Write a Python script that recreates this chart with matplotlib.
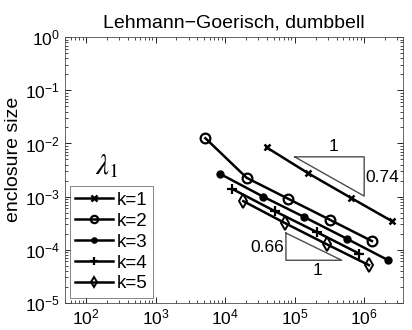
import matplotlib
matplotlib.use("Agg")
import matplotlib.pyplot as plt

plt.rcParams['font.family'] = ['Liberation Sans', 'DejaVu Sans']
plt.rcParams['mathtext.fontset'] = 'stix'

k1_x = [3.97e4, 1.57e5, 6.4e5, 2.54e6]
k1_y = [8.4e-3, 2.74e-3, 9.5e-4, 3.4e-4]
k2_x = [5.2e3, 2.05e4, 8.1e4, 3.2e5, 1.29e6]
k2_y = [1.26e-2, 2.25e-3, 9.06e-4, 3.66e-4, 1.45e-4]
k3_x = [8.5e3, 3.5e4, 1.38e5, 5.6e5, 2.22e6]
k3_y = [2.67e-3, 1.0e-3, 4.1e-4, 1.61e-4, 6.3e-5]
k4_x = [1.27e4, 5.2e4, 2.08e5, 8.5e5]
k4_y = [1.39e-3, 5.3e-4, 2.14e-4, 8.4e-5]
k5_x = [1.83e4, 7.3e4, 2.9e5, 1.17e6]
k5_y = [8.2e-4, 3.15e-4, 1.26e-4, 5.1e-5]
labels = ['k=1', 'k=2', 'k=3', 'k=4', 'k=5']

fig = plt.figure(figsize=(4.12, 3.30), dpi=100)
ax = fig.add_axes([65/412, 1-302.7/330, (403.3-65)/412, (302.7-37.3)/330])

ax.plot(k1_x, k1_y, '-x', color='k', lw=1.8, ms=5, mew=1.8, label=labels[0])
ax.plot(k2_x, k2_y, '-o', color='k', lw=1.8, ms=7, mew=1.6, mfc='none', label=labels[1])
ax.plot(k3_x, k3_y, '-o', color='k', lw=1.8, ms=5, label=labels[2])
ax.plot(k4_x, k4_y, '-+', color='k', lw=1.8, ms=7, mew=1.6, label=labels[3])
ax.plot(k5_x, k5_y, '-d', color='k', lw=1.8, ms=7, mew=1.4, mfc='none', label=labels[4])

# slope triangles
ax.plot([1e5, 1e6, 1e6, 1e5], [5.6e-3, 5.6e-3, 1.02e-3, 5.6e-3], color='0.3', lw=1.0)
ax.text(3.6e5, 6.3e-3, '1', fontsize=12.5, ha='center', va='bottom')
ax.text(1.03e6, 2.3e-3, '0.74', fontsize=12.5, ha='left', va='center')
ax.plot([7.5e4, 7.5e4, 4.75e5, 7.5e4], [2.05e-4, 6.3e-5, 6.3e-5, 2.05e-4], color='0.3', lw=1.0)
ax.text(7.1e4, 1.1e-4, '0.66', fontsize=12.5, ha='right', va='center')
ax.text(2.1e5, 5.5e-5, '1', fontsize=12.5, ha='center', va='top')

ax.set_xscale('log')
ax.set_yscale('log')
ax.set_xlim(50, 3.65e6)
ax.set_ylim(1e-5, 1)
ax.set_xticks([1e2, 1e3, 1e4, 1e5, 1e6])
ax.set_yticks([1e-5, 1e-4, 1e-3, 1e-2, 1e-1, 1])
ax.tick_params(which='both', direction='in', top=True, right=True, labelsize=12.5)
ax.tick_params(which='major', length=4, width=0.6)
ax.tick_params(which='minor', length=2, width=0.5)
for s in ax.spines.values():
    s.set_linewidth(0.6)
    s.set_color('0.3')

ax.set_title('Lehmann\u2212Goerisch, dumbbell', fontsize=14, pad=7)
ax.set_ylabel('enclosure size', fontsize=14)
ax.yaxis.set_label_coords(-0.127, 0.541)

leg = ax.legend(loc='lower left', bbox_to_anchor=(0.0, 0.0), fontsize=13.5, frameon=True,
                fancybox=False, edgecolor='0.3', handlelength=2.0, handletextpad=0.2,
                borderpad=0.3, labelspacing=0.2, borderaxespad=0.25, markerscale=0.75)
leg.get_frame().set_linewidth(0.6)
ax.text(0.124, 0.485, r'$\lambda_1$', transform=ax.transAxes, fontsize=21, ha='center', va='baseline')

fig.savefig('out.png', dpi=100)
